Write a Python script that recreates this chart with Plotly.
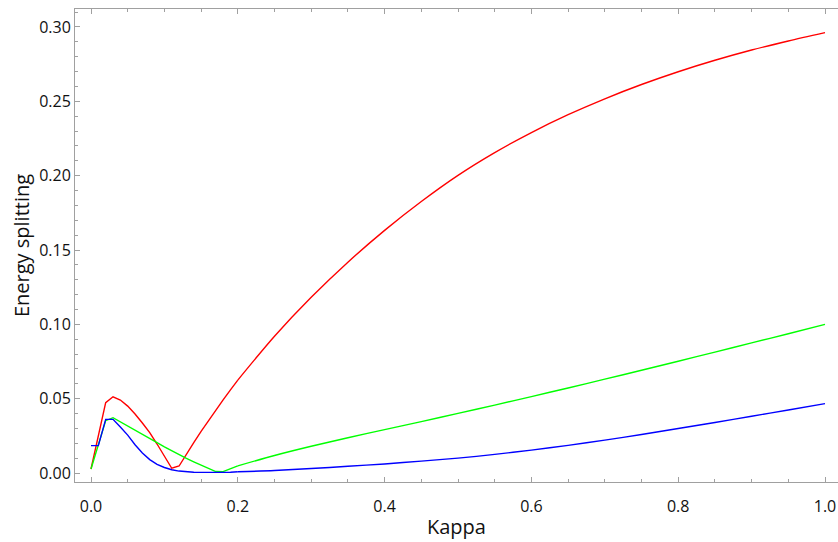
import plotly.graph_objects as go

kappa = [0.00, 0.01, 0.02, 0.03, 0.04, 0.05, 0.06, 0.07, 0.08, 0.09,
         0.10, 0.11, 0.12, 0.13, 0.14, 0.15, 0.16, 0.17, 0.18, 0.19,
         0.20, 0.25, 0.30, 0.35, 0.40, 0.45, 0.50, 0.55, 0.60, 0.65,
         0.70, 0.75, 0.80, 0.85, 0.90, 0.95, 1.00]

red = [0.0027, 0.0250, 0.0473, 0.0513, 0.0491, 0.0450, 0.0397, 0.0336, 0.0272, 0.0195,
       0.0114, 0.0032, 0.0047, 0.0128, 0.0205, 0.0280, 0.0352, 0.0423, 0.0492, 0.0559,
       0.0625, 0.0920, 0.1182, 0.1418, 0.1632, 0.1826, 0.2002, 0.2155, 0.2290, 0.2410,
       0.2517, 0.2613, 0.2699, 0.2776, 0.2845, 0.2906, 0.2962]

green = [0.0027, 0.0190, 0.0352, 0.0372, 0.0345, 0.0318, 0.0290, 0.0262, 0.0234, 0.0205,
         0.0176, 0.0149, 0.0123, 0.0098, 0.0075, 0.0053, 0.0028, 0.0010, 0.0009, 0.0030,
         0.0048, 0.0118, 0.0180, 0.0237, 0.0292, 0.0346, 0.0401, 0.0457, 0.0514, 0.0572,
         0.0631, 0.0691, 0.0752, 0.0813, 0.0875, 0.0937, 0.1000]

blue = [0.0184, 0.0184, 0.0361, 0.0361, 0.0310, 0.0255, 0.0190, 0.0135, 0.0090, 0.0058,
        0.0037, 0.0022, 0.0013, 0.0008, 0.0005, 0.0004, 0.0003, 0.0003, 0.0004, 0.0005,
        0.0008, 0.0017, 0.0030, 0.0045, 0.0061, 0.0080, 0.0100, 0.0125, 0.0154, 0.0186,
        0.0221, 0.0259, 0.0299, 0.0340, 0.0382, 0.0424, 0.0467]

x_ticks = [0.0, 0.2, 0.4, 0.6, 0.8, 1.0]
x_ticklabels = ["0.0", "0.2", "0.4", "0.6", "0.8", "1.0"]
y_ticks = [0.00, 0.05, 0.10, 0.15, 0.20, 0.25, 0.30]
y_ticklabels = ["0.00", "0.05", "0.10", "0.15", "0.20", "0.25", "0.30"]

split = kappa.index(0.20)

fig = go.Figure()
for vals, col in [(red, "#ff0000"), (green, "#00ff00"), (blue, "#0000ff")]:
    # finely sampled low-kappa part: straight segments
    fig.add_trace(go.Scatter(x=kappa[:split + 1], y=vals[:split + 1], mode="lines",
                             line=dict(color=col, width=1.4), showlegend=False))
    # smooth high-kappa part
    fig.add_trace(go.Scatter(x=kappa[split:], y=vals[split:], mode="lines",
                             line=dict(color=col, width=1.4, shape="spline", smoothing=0.8),
                             showlegend=False))

frame = "#a0a0a0"
tickfont = dict(family="Open Sans", size=16, color="#111111")
titlefont = dict(family="Open Sans", size=20, color="#111111")

fig.update_layout(
    width=838, height=542,
    margin=dict(l=75, r=0, t=9, b=60, autoexpand=False),
    paper_bgcolor="white", plot_bgcolor="white",
    font=tickfont,
)
fig.update_xaxes(
    range=[-0.0218, 1.0177],
    tickvals=x_ticks, ticktext=x_ticklabels,
    ticks="inside", ticklen=5, tickwidth=1, tickcolor=frame,
    minor=dict(dtick=0.05, tick0=0, ticks="inside", ticklen=3, tickcolor=frame, tickwidth=1),
    showline=True, linecolor=frame, linewidth=1, mirror="allticks",
    showgrid=False, zeroline=False, automargin=False,
    ticklabelstandoff=10,
    tickfont=tickfont,
)
fig.update_yaxes(
    range=[-0.00605, 0.3121],
    tickvals=y_ticks, ticktext=y_ticklabels,
    ticks="inside", ticklen=5, tickwidth=1, tickcolor=frame,
    minor=dict(dtick=0.01, tick0=0, ticks="inside", ticklen=3, tickcolor=frame, tickwidth=1),
    showline=True, linecolor=frame, linewidth=1, mirror=False,
    showgrid=False, zeroline=False, automargin=False,
    title=dict(text="Energy splitting", font=titlefont, standoff=4),
    tickfont=tickfont,
)
fig.add_annotation(text="Kappa", xref="paper", yref="paper", x=0.5, y=0,
                   xanchor="center", yanchor="middle", yshift=-44, borderpad=0,
                   showarrow=False, font=titlefont)

fig.write_html("out.html")
